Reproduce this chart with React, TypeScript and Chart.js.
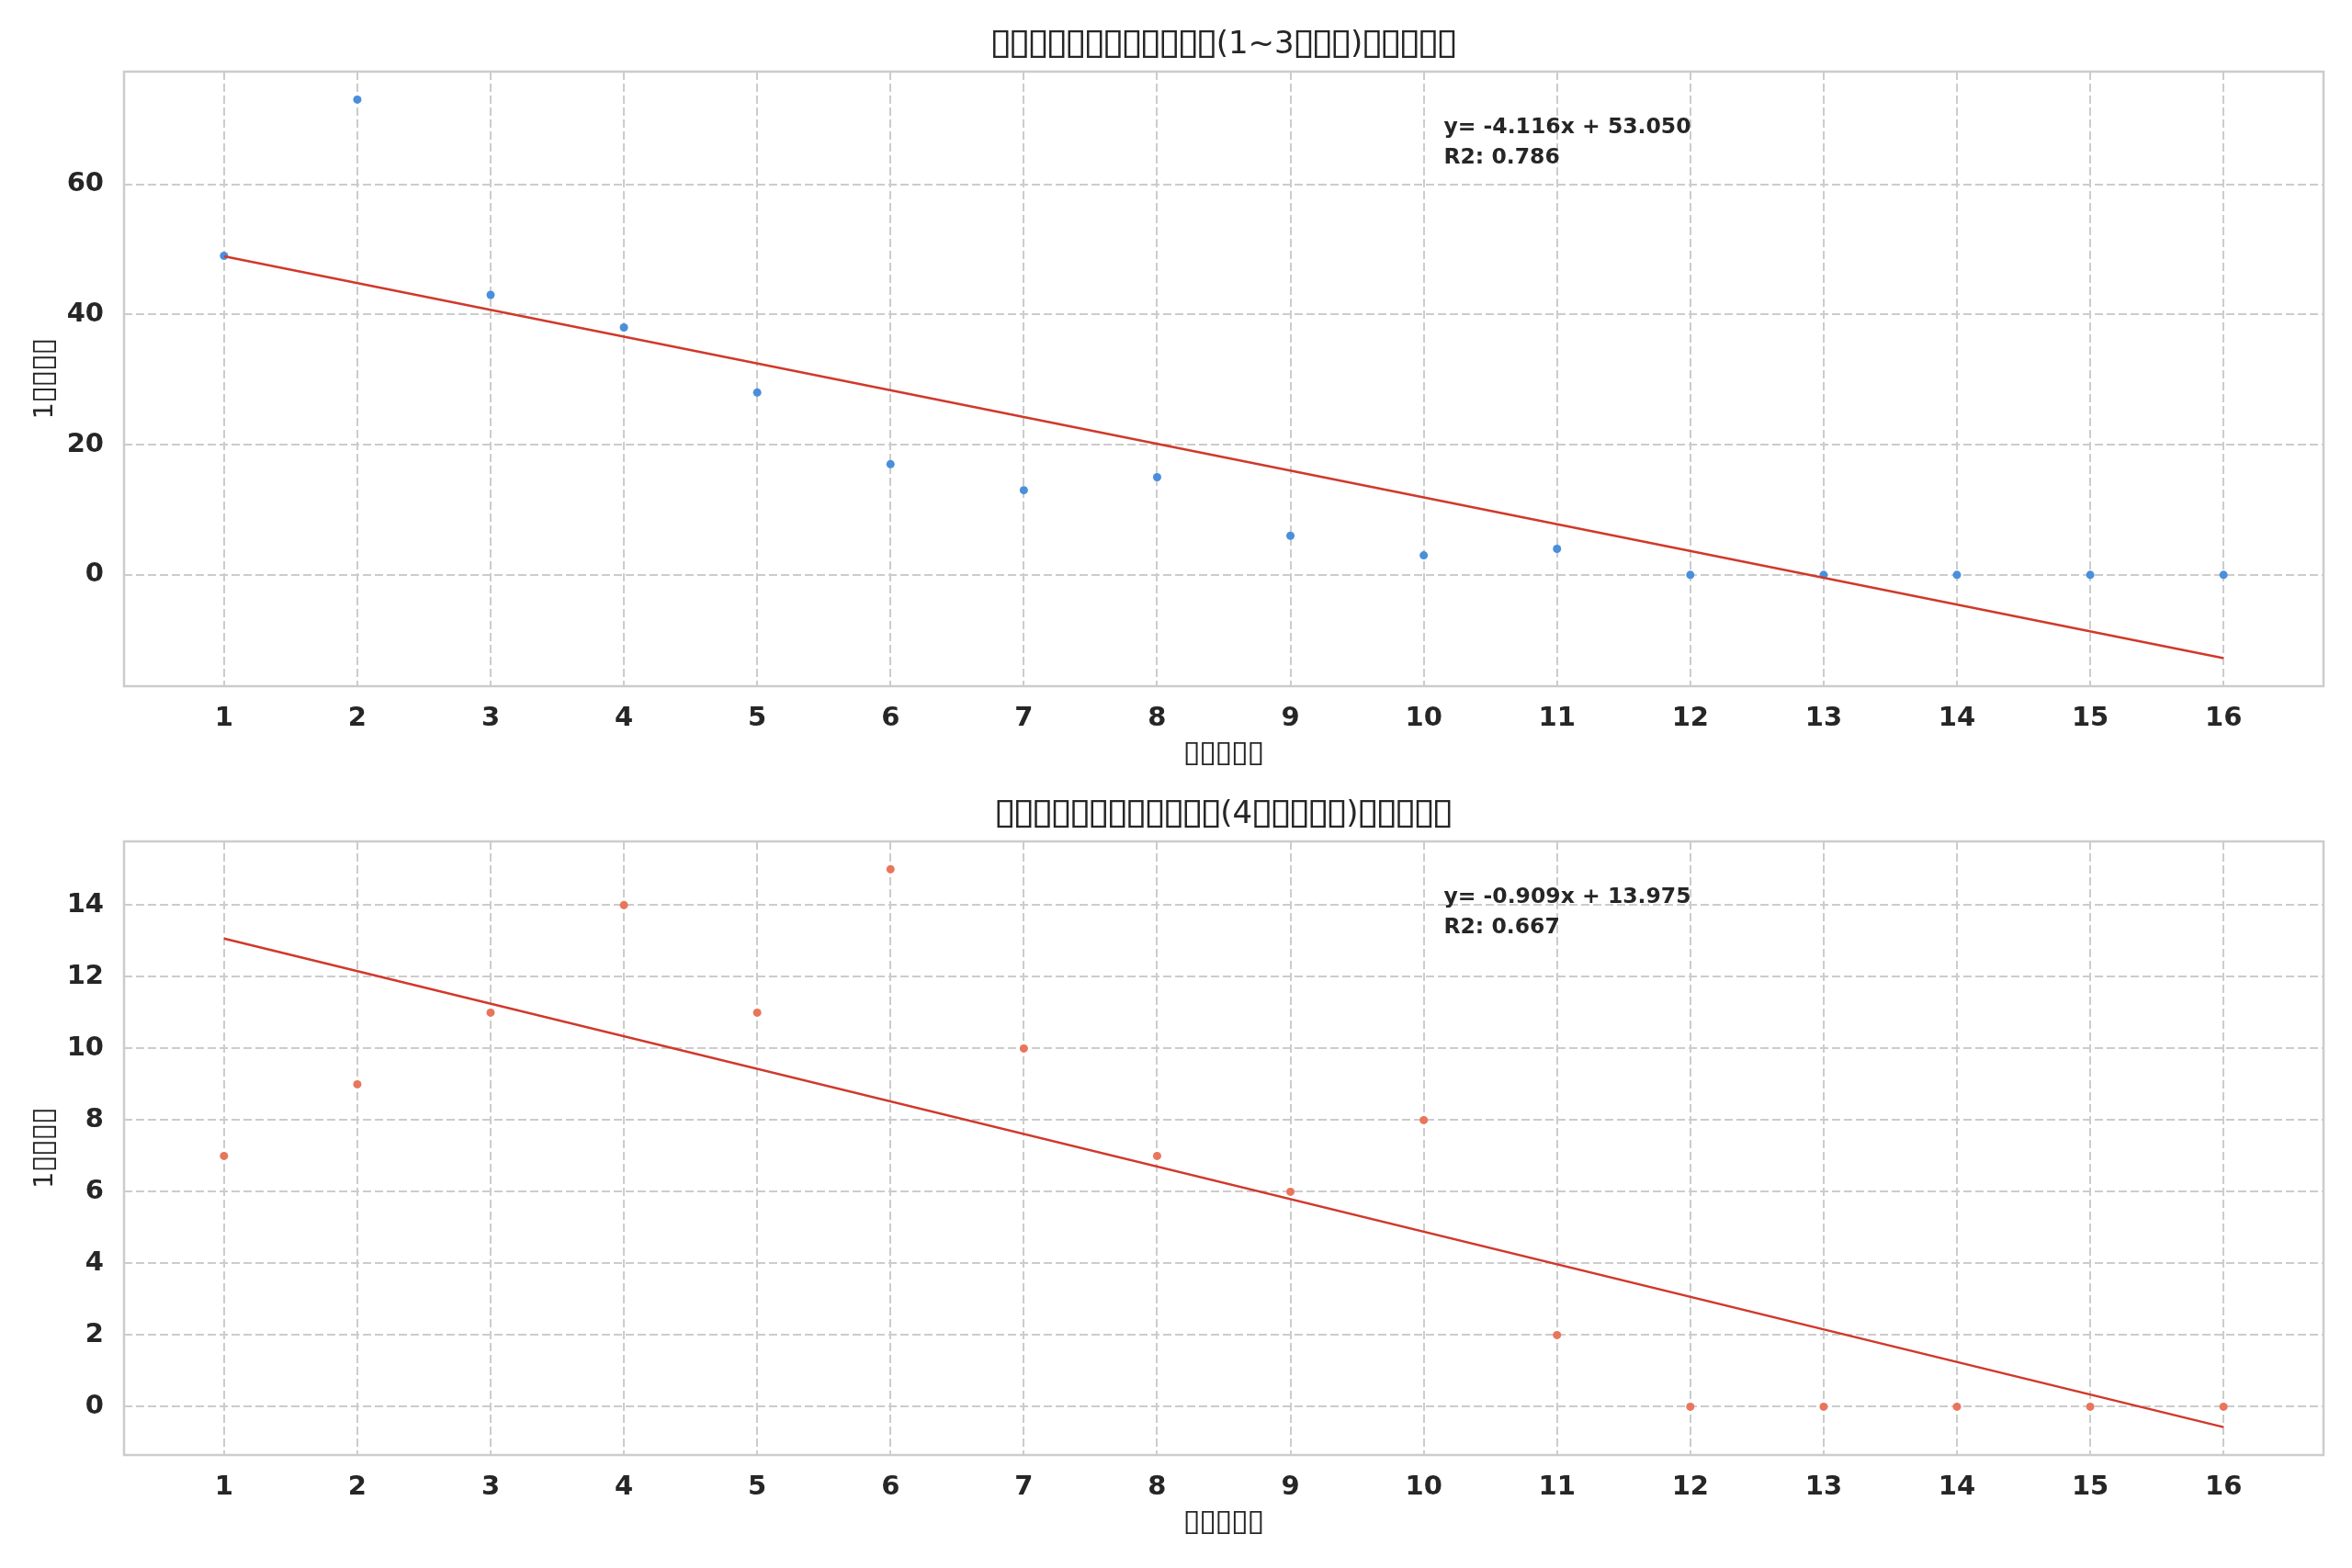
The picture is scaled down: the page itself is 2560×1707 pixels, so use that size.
import React, { useEffect, useRef } from "react";
import { Chart, registerables, Plugin } from "chart.js";

Chart.register(...registerables);

// years since registration (x) and ticket counts per year (y)
const years = [1, 2, 3, 4, 5, 6, 7, 8, 9, 10, 11, 12, 13, 14, 15, 16];
const shortTermCounts = [49, 73, 43, 38, 28, 17, 13, 15, 6, 3, 4, 0, 0, 0, 0, 0];
const longTermCounts = [7, 9, 11, 14, 11, 15, 10, 7, 6, 8, 2, 0, 0, 0, 0, 0];

const shortFit = { slope: -4.116, intercept: 53.05, r2: 0.786 };
const longFit = { slope: -0.909, intercept: 13.975, r2: 0.667 };

const xTicks = years;
const shortYTicks = [0, 20, 40, 60];
const longYTicks = [0, 2, 4, 6, 8, 10, 12, 14];

const shortTitle = "▯▯▯▯▯▯▯▯▯▯▯▯(1~3▯▯▯)▯▯▯▯▯";
const longTitle = "▯▯▯▯▯▯▯▯▯▯▯▯(4▯▯▯▯▯)▯▯▯▯▯";
const xLabel = "▯▯▯▯▯";
const yLabel = "1▯▯▯▯";

const FONT = '"DejaVu Sans", sans-serif';
const TEXT = "#262626";
const GRID = "#cccccc";
const LINE_RED = "#d0392b";
const TOFU = "▯";

type Fit = { slope: number; intercept: number; r2: number };

// draw text centred on (0,0); missing-glyph boxes get a 0.6em cell and are
// stretched to the tall box shape of the original's missing glyphs
function drawCentered(ctx: CanvasRenderingContext2D, text: string, size: number) {
  ctx.textAlign = "left";
  ctx.textBaseline = "middle";
  const baseY = ctx.measureText("H").actualBoundingBoxDescent;
  ctx.textBaseline = "alphabetic";
  const chars = Array.from(text);
  const widths = chars.map((c) =>
    c === TOFU ? size * 0.6 : ctx.measureText(c).width
  );
  const total = widths.reduce((s, w) => s + w, 0);
  const t = ctx.measureText(TOFU);
  const gw = t.actualBoundingBoxLeft + t.actualBoundingBoxRight;
  const gh = t.actualBoundingBoxAscent + t.actualBoundingBoxDescent;
  let x = -total / 2;
  chars.forEach((c, i) => {
    if (c === TOFU) {
      const bw = size * 0.5;
      const bh = size * 0.9;
      ctx.save();
      ctx.translate(x + (widths[i] - bw) / 2, baseY - size * 0.73);
      ctx.scale(bw / gw, bh / gh);
      ctx.fillText(TOFU, t.actualBoundingBoxLeft, t.actualBoundingBoxAscent);
      ctx.restore();
    } else {
      ctx.fillText(c, x, baseY);
    }
    x += widths[i];
  });
}

const decorations = (title: string, fit: Fit): Plugin => ({
  id: "decorations",
  beforeDatasetsDraw(chart) {
    const { ctx, chartArea: a } = chart;
    ctx.save();
    ctx.strokeStyle = GRID;
    ctx.lineWidth = 2.5;
    ctx.strokeRect(a.left, a.top, a.right - a.left, a.bottom - a.top);
    ctx.restore();
  },
  afterDraw(chart) {
    const { ctx, chartArea: a } = chart;
    const cx = (a.left + a.right) / 2;
    ctx.save();
    ctx.fillStyle = TEXT;

    ctx.save();
    ctx.font = `34px ${FONT}`;
    ctx.translate(cx, a.top - 29);
    drawCentered(ctx, title, 34);
    ctx.restore();

    ctx.save();
    ctx.font = `29px ${FONT}`;
    ctx.translate(cx, a.bottom + 74);
    drawCentered(ctx, xLabel, 29);
    ctx.restore();

    ctx.save();
    ctx.font = `29px ${FONT}`;
    ctx.translate(49, (a.top + a.bottom) / 2);
    ctx.rotate(-Math.PI / 2);
    drawCentered(ctx, yLabel, 29);
    ctx.restore();

    ctx.font = `bold 23.5px ${FONT}`;
    ctx.textAlign = "left";
    ctx.textBaseline = "alphabetic";
    const tx = a.left + 0.6 * (a.right - a.left);
    ctx.fillText(
      `y= ${fit.slope.toFixed(3)}x + ${fit.intercept.toFixed(3)}`,
      tx,
      a.top + 67
    );
    ctx.fillText(`R2: ${fit.r2.toFixed(3)}`, tx, a.top + 100);
    ctx.restore();
  },
});

interface PanelProps {
  counts: number[];
  fit: Fit;
  yTicks: number[];
  title: string;
  color: string;
  top: number;
  height: number;
  plotTop: number;
  plotBottom: number;
}

const Panel: React.FC<PanelProps> = ({
  counts,
  fit,
  yTicks,
  title,
  color,
  top,
  height,
  plotTop,
  plotBottom,
}) => {
  const canvasRef = useRef<HTMLCanvasElement | null>(null);

  useEffect(() => {
    const ctx = canvasRef.current?.getContext("2d");
    if (!ctx) return;

    const x0 = years[0];
    const x1 = years[years.length - 1];
    const fitLine = [
      { x: x0, y: fit.slope * x0 + fit.intercept },
      { x: x1, y: fit.slope * x1 + fit.intercept },
    ];
    const points = years.map((x, i) => ({ x, y: counts[i] }));

    // matplotlib-style 5% margins
    const ys = [...counts, fitLine[0].y, fitLine[1].y];
    const yMin = Math.min(...ys);
    const yMax = Math.max(...ys);
    const yPad = (yMax - yMin) * 0.05;
    const xPad = (x1 - x0) * 0.05;

    const tickFont = { family: FONT, size: 29, weight: "bold" };

    const chart = new Chart(ctx, {
      type: "scatter",
      data: {
        datasets: [
          {
            type: "line",
            data: fitLine,
            borderColor: LINE_RED,
            borderWidth: 2.5,
            pointRadius: 0,
            fill: false,
          },
          {
            data: points,
            backgroundColor: color,
            borderWidth: 0,
            pointRadius: 4.5,
          },
        ],
      },
      options: {
        animation: false,
        responsive: false,
        devicePixelRatio: 1,
        layout: { padding: { top: plotTop, right: 31, left: 0, bottom: 0 } },
        plugins: {
          legend: { display: false },
          tooltip: { enabled: false },
          title: { display: false },
        },
        scales: {
          x: {
            type: "linear",
            min: x0 - xPad,
            max: x1 + xPad,
            afterBuildTicks: (scale) => {
              scale.ticks = xTicks.map((v) => ({ value: v }));
            },
            afterFit: (scale) => {
              scale.height = height - plotBottom;
            },
            grid: { color: GRID, lineWidth: 2, drawTicks: false },
            border: { display: false, dash: [9, 4] },
            ticks: { color: TEXT, padding: 18, font: tickFont },
          },
          y: {
            type: "linear",
            min: yMin - yPad,
            max: yMax + yPad,
            afterBuildTicks: (scale) => {
              scale.ticks = yTicks.map((v) => ({ value: v }));
            },
            afterFit: (scale) => {
              scale.width = 135;
            },
            grid: { color: GRID, lineWidth: 2, drawTicks: false },
            border: { display: false, dash: [9, 4] },
            ticks: { color: TEXT, padding: 22, font: tickFont },
          },
        },
      },
      plugins: [decorations(title, fit)],
    } as any);

    return () => {
      chart.destroy();
    };
  }, [counts, fit, yTicks, title, color, height, plotTop, plotBottom]);

  return (
    <canvas
      ref={canvasRef}
      width={2560}
      height={height}
      style={{ position: "absolute", left: 0, top, display: "block" }}
    />
  );
};

export default function App() {
  useEffect(() => {
    document.body.style.margin = "0";
  }, []);

  return (
    <div style={{ position: "relative", width: 2560, height: 1707, background: "#fff" }}>
      <Panel
        counts={shortTermCounts}
        fit={shortFit}
        yTicks={shortYTicks}
        title={shortTitle}
        color="#4a8fdc"
        top={0}
        height={853}
        plotTop={78}
        plotBottom={747}
      />
      <Panel
        counts={longTermCounts}
        fit={longFit}
        yTicks={longYTicks}
        title={longTitle}
        color="#e8765d"
        top={853}
        height={854}
        plotTop={63}
        plotBottom={731}
      />
    </div>
  );
}
